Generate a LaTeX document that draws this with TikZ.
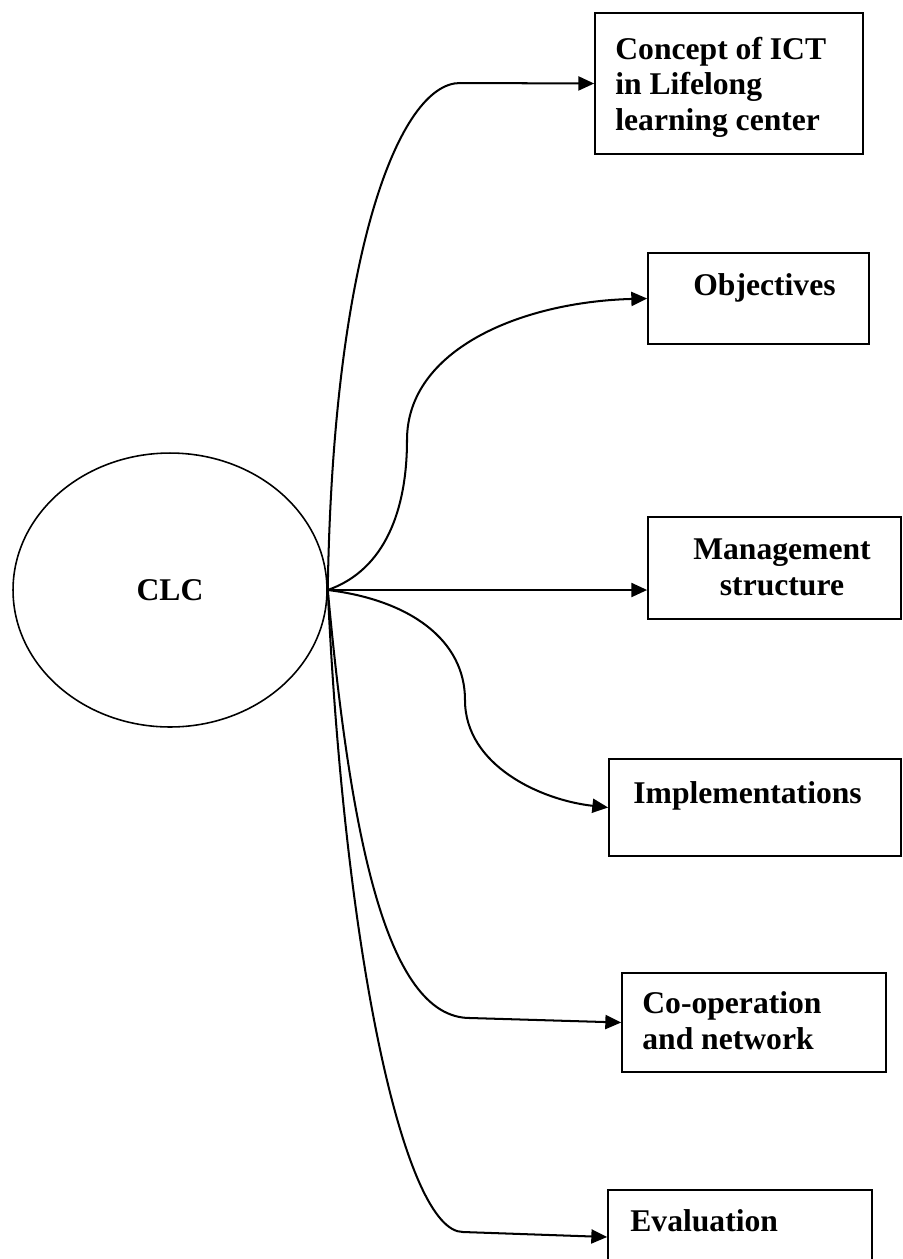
\documentclass[tikz,border=0pt]{standalone}
\usepackage{fontspec}
\setmainfont{Liberation Serif}
\usetikzlibrary{arrows.meta,shapes.geometric}
\tikzset{
  box/.style={draw, rectangle, line width=1pt, inner sep=0pt},
  lbl/.style={font=\fontsize{18}{20}\selectfont\bfseries, inner sep=0pt, align=left, anchor=base west},
  conn/.style={line width=1.15pt, -{Triangle[length=9pt,width=8pt]}}
}
\begin{document}
\begin{tikzpicture}[x=0.02cm, y=-0.02cm]
\useasboundingbox (0,0) rectangle (903,1259);

% central ellipse
\node[draw, ellipse, line width=0.9pt, inner sep=0pt,
      minimum width=6.28cm, minimum height=5.48cm,
      font=\fontsize{18}{20}\selectfont\bfseries] (clc) at (170,590) {CLC};

% boxes
\node[box, minimum width=5.36cm, minimum height=2.82cm] (concept) at (729,83.5) {};
\node[box, minimum width=4.42cm, minimum height=1.82cm] (obj) at (758.5,298.5) {};
\node[box, minimum width=5.06cm, minimum height=2.04cm] (mgmt) at (774.5,568) {};
\node[box, minimum width=5.84cm, minimum height=1.94cm] (impl) at (755,807.5) {};
\node[box, minimum width=5.28cm, minimum height=1.98cm] (coop) at (754,1022.5) {};
\node[box, minimum width=5.28cm, minimum height=1.88cm] (eval) at (740,1237) {};

% box texts (multi-line nodes are placed by the baseline of their last line)
\node[lbl] (concepttext) at (615,130) {Concept of ICT\\in Lifelong\\learning center};
\node[lbl] (objtext) at (693,295) {Objectives};
\node[lbl, align=center, anchor=base] (mgmttext) at (782,595) {Management\\structure};
\node[lbl] (impltext) at (633,803) {Implementations};
\node[lbl] (cooptext) at (642,1049) {Co-operation\\and network};
\node[lbl] (evaltext) at (630,1231) {Evaluation};

% connectors
\draw[conn] (clc.east) .. controls (333,250) and (400,83) .. (460,83) -- (concept.west);
\draw[conn] (clc.east) .. controls (385,570) and (407,510) .. (407,440)
            .. controls (407,350) and (520,302) .. (obj.west);
\draw[conn] (clc.east) -- (clc.east -| mgmt.west);
\draw[conn] (clc.east) .. controls (410,600) and (465,640) .. (465,700)
            .. controls (465,765) and (540,800) .. (impl.west);
\draw[conn] (clc.east) .. controls (350,830) and (385,1018) .. (470,1018) -- (coop.west);
\draw[conn] (clc.east) .. controls (345,960) and (405,1232) .. (463,1232) -- (eval.west);
\end{tikzpicture}
\end{document}
